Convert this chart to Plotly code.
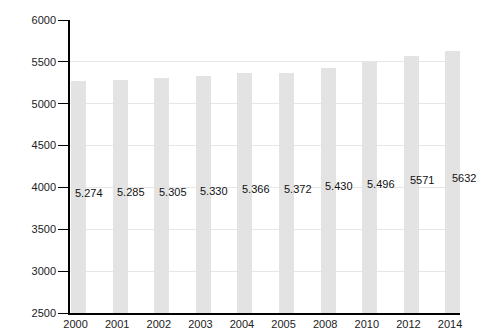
import plotly.graph_objects as go

years = ["2000", "2001", "2002", "2003", "2004", "2005", "2008", "2010", "2012", "2014"]
values = [5274, 5285, 5305, 5330, 5366, 5372, 5430, 5496, 5571, 5632]
labels = ["5.274", "5.285", "5.305", "5.330", "5.366", "5.372", "5.430", "5.496", "5571", "5632"]
y_min, y_max = 2500, 6000

idx = list(range(len(years)))

fig = go.Figure()
fig.add_trace(go.Bar(
    x=idx, y=[v - y_min for v in values], base=y_min,
    width=0.36, marker=dict(color="#e3e3e3", line=dict(width=0)),
    hoverinfo="skip", showlegend=False,
))

for i, v, t in zip(idx, values, labels):
    fig.add_annotation(
        x=i, y=(v + y_min) / 2, text=t, showarrow=False,
        xanchor="center", yanchor="middle", xshift=11, yshift=4,
        font=dict(family="Liberation Sans, Arial", size=11, color="#111"),
    )

fig.update_layout(
    width=500, height=333,
    margin=dict(l=70, r=40, t=20, b=20),
    paper_bgcolor="white", plot_bgcolor="white",
    font=dict(family="Liberation Sans, Arial", size=11, color="#222"),
    bargap=0,
)
fig.update_xaxes(
    range=[-0.204, 9.17], automargin=False,
    tickmode="array", tickvals=[i - 0.07 for i in idx], ticktext=years,
    showgrid=False, zeroline=False,
    showline=True, linecolor="black", linewidth=1.5,
    ticks="", ticklen=0,
)
fig.update_yaxes(
    range=[y_min, y_max], tickmode="linear", tick0=2500, dtick=500, automargin=False,
    showgrid=True, gridcolor="#e6e6e6", gridwidth=1,
    zeroline=False, showline=True, linecolor="black", linewidth=1.5,
    ticks="outside", ticklen=10, tickcolor="black", tickwidth=1,
)

fig.write_html("out.html")
